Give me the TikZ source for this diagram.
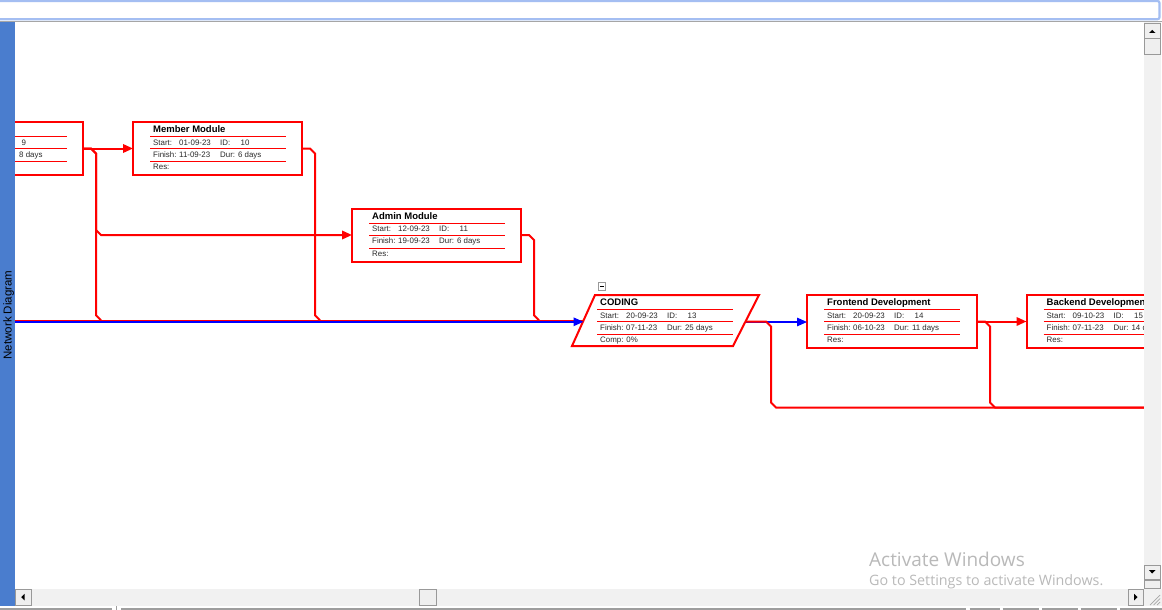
\documentclass[tikz,border=0pt]{standalone}
\usepackage{fontspec}
\setmainfont{Liberation Sans}
\newfontfamily\wmfont{Open Sans}
\usetikzlibrary{arrows.meta}

\definecolor{sidebar}{HTML}{4A7DCE}
\definecolor{framelite}{HTML}{A4BEF2}
\definecolor{barbg}{HTML}{F1F1F1}
\definecolor{btnface}{HTML}{EFEFEF}
\definecolor{wmgray}{HTML}{B9B9B9}
\definecolor{critred}{HTML}{FF0000}
\definecolor{linkblue}{HTML}{0000FF}
\definecolor{rowink}{HTML}{2A2A2A}

\tikzset{
  taskbox/.style={draw=critred, line width=2pt, rectangle, inner sep=0pt, outer sep=0pt,
    minimum width=169pt, minimum height=53pt, anchor=north west},
  titletext/.style={anchor=base west, inner sep=0pt,
    font=\fontsize{9.5}{10}\selectfont\bfseries},
  rowtext/.style={anchor=base west, inner sep=0pt,
    font=\fontsize{7.9}{9}\selectfont, text=rowink},
  sepline/.style={draw=critred, line width=0.9pt},
  critlink/.style={draw=critred, line width=2pt},
  critthin/.style={draw=critred, line width=1pt},
  bluelink/.style={draw=linkblue, line width=1.5pt},
  arrowhd/.style={-{Triangle[length=10pt,width=8.5pt]}},
  button/.style={fill=btnface, draw=black!40, line width=0.8pt},
}

% text rows of one task box; #1 = box name, the rows hang from (#1-nw)
\newcommand\taskfields[7]{%
  \node[titletext] (#1-title) at ([shift={(20,10.6)}]#1-nw) {#2};
  \draw[sepline] ([shift={(17,14.6)}]#1-nw) -- ++(136,0);
  \node[rowtext] (#1-sl) at ([shift={(20,23.3)}]#1-nw) {Start:};
  \node[rowtext] (#1-sv) at ([shift={(46,23.3)}]#1-nw) {#3};
  \node[rowtext] (#1-il) at ([shift={(87,23.3)}]#1-nw) {ID:};
  \node[rowtext] (#1-iv) at ([shift={(107.5,23.3)}]#1-nw) {#4};
  \draw[sepline] ([shift={(17,26.6)}]#1-nw) -- ++(136,0);
  \node[rowtext] (#1-fl) at ([shift={(20,35)}]#1-nw) {Finish:};
  \node[rowtext] (#1-fv) at ([shift={(46,35)}]#1-nw) {#5};
  \node[rowtext] (#1-dv) at ([shift={(87,35)}]#1-nw) {Dur: #6};
  \draw[sepline] ([shift={(17,39.6)}]#1-nw) -- ++(136,0);
  \node[rowtext] (#1-last) at ([shift={(20,47.5)}]#1-nw) {#7};
}

\begin{document}
\begin{tikzpicture}[x=1pt,y=-1pt]
\useasboundingbox (0,0) rectangle (1162,610);
\fill[white] (0,0) rectangle (1162,610);

% title field along the top edge
\draw[framelite, line width=2.2pt, rounded corners=2pt] (-6,1) rectangle (1159.5,19.2);
\draw[black!35, line width=1.4pt] (0,21.4) -- (1162,21.4);

% ---------------- diagram area ----------------
\begin{scope}
\clip (15,22.2) rectangle (1144,589);

% task boxes
\node[taskbox] (prev)     at (-86,122) {};
\node[taskbox] (member)   at (133,122) {};
\node[taskbox] (admin)    at (352,208.5) {};
\node[taskbox, minimum width=170pt] (frontend) at (807,295) {};
\node[taskbox, minimum width=170pt] (backend)  at (1026.5,295) {};

% summary task: parallelogram
\node[minimum width=187pt, minimum height=51pt, inner sep=0pt, outer sep=0pt] (coding) at (665.5,320.5) {};
\draw[critlink, line join=miter]
  (coding.south west) -- ([xshift=23]coding.north west) -- (coding.north east)
  -- ([xshift=-26]coding.south east) -- cycle;
\coordinate (codingIn)   at (583.5,321.8);
\coordinate (codingOut)  at (745.5,321.5);
\coordinate (codingOutB) at (745.5,322);
\coordinate (coding-nw)  at (580,295);

% collapse marker of the summary task
\node[draw=black!40, fill=white, line width=0.6pt, minimum size=7.5pt, inner sep=0pt] (collapse) at (602,286.5) {};
\draw[black, line width=0.8pt] ([xshift=-2.2]collapse.center) -- ([xshift=2.2]collapse.center);

% the rows of each box
\foreach \n in {prev,member,admin,frontend,backend}{\coordinate (\n-nw) at (\n.north west);}
\draw[sepline] ([shift={(17,14.6)}]prev-nw) -- ++(136,0);
\draw[sepline] ([shift={(17,26.6)}]prev-nw) -- ++(136,0);
\draw[sepline] ([shift={(17,39.6)}]prev-nw) -- ++(136,0);
\node[rowtext] (prev-iv) at ([shift={(107.5,23.3)}]prev-nw) {9};
\node[rowtext] (prev-dv) at ([shift={(105,35)}]prev-nw) {8 days};

\taskfields{member}{Member Module}{01-09-23}{10}{11-09-23}{6 days}{Res:}
\taskfields{admin}{Admin Module}{12-09-23}{11}{19-09-23}{6 days}{Res:}
\taskfields{coding}{CODING}{20-09-23}{13}{07-11-23}{25 days}{Comp: 0\%}
\taskfields{frontend}{Frontend Development}{20-09-23}{14}{06-10-23}{11 days}{Res:}
\taskfields{backend}{Backend Development}{09-10-23}{15}{07-11-23}{14 days}{Res:}

% links
\coordinate (offLeft)  at (0,321.8);
\coordinate (offRight) at (1150,407.5);
\draw[critthin] (0,320.3) -- (583,320.3);
\draw[bluelink, arrowhd] (offLeft) -- (codingIn);

\draw[critlink, arrowhd] (prev.east) -- (member.west);
\draw[critlink, arrowhd] (prev.east) -- ++(8,0) -- ++(5,5) -- ++(0,76.5) -- ++(5,5) -- (admin.west);
\draw[critlink] (prev.east) -- ++(8,0) -- ++(5,5) -- ++(0,161.8) -- ++(5,5);
\draw[critlink] (member.east) -- ++(8,0) -- ++(5,5) -- ++(0,161.8) -- ++(5,5);
\draw[critlink] (admin.east) -- ++(8,0) -- ++(5,5) -- ++(0,75.3) -- ++(5,5);

\draw[bluelink, arrowhd] (codingOutB) -- (codingOutB -| frontend.west);
\draw[critlink] (codingOut) -- ++(20.5,0) -- ++(5,5) -- ++(0,76) -- ++(5,5) -- (offRight);

\draw[critlink, arrowhd] (frontend.east) -- (backend.west);
\draw[critlink] (frontend.east) -- ++(8,0) -- ++(5,5) -- ++(0,76) -- ++(5,5) -- (offRight);
\end{scope}

% ---------------- window frame ----------------
% side tab
\fill[sidebar] (0,22.2) rectangle (15,606);
\node[rotate=90, inner sep=0pt, font=\fontsize{11.5}{12}\selectfont] (tabname) at (8.6,315) {Network Diagram};

% vertical scroll bar
\fill[barbg] (1144,22.2) rectangle (1160.5,589);
\fill[white] (1160.5,22.2) rectangle (1162,589);
\node[button, minimum width=16pt, minimum height=15pt, inner sep=0pt, anchor=north west] (upbtn) at (1144.3,23) {};
\node[button, minimum width=16pt, minimum height=16pt, inner sep=0pt, anchor=north west] (vthumb) at (1144.3,38.5) {};
\fill[black] (1149,33) -- (1155.5,33) -- (1152.2,29.8) -- cycle;
\node[button, minimum width=16pt, minimum height=14pt, inner sep=0pt, anchor=north west] (downbtn) at (1144.3,565) {};
\node[button, minimum width=16pt, minimum height=8pt, inner sep=0pt, anchor=north west] (vlower) at (1144.3,580) {};
\fill[black] (1149,570.2) -- (1155.5,570.2) -- (1152.2,573.5) -- cycle;

% horizontal scroll bar
\fill[barbg] (15,589) rectangle (1162,606.2);
\node[button, minimum width=16pt, minimum height=16pt, inner sep=0pt, anchor=north west] (leftbtn) at (15.4,589.3) {};
\fill[black] (24.6,593.8) -- (24.6,600.4) -- (21.2,597.1) -- cycle;
\node[button, minimum width=16.5pt, minimum height=16pt, inner sep=0pt, anchor=north west] (hthumb) at (419.2,589.3) {};
\node[button, minimum width=15pt, minimum height=16pt, inner sep=0pt, anchor=north west] (rightbtn) at (1128.2,589.3) {};
\fill[black] (1134.2,593.8) -- (1134.2,600.4) -- (1137.6,597.1) -- cycle;
% size grip
\foreach \d in {0,3.5,7}{\draw[black!35, line width=0.7pt] (1150+\d,605) -- (1160,595+\d);}

% status strip
\fill[white] (0,606.2) rectangle (1162,610);
\foreach \a/\b in {0/112, 121/966, 969.5/999.5, 1002.5/1039, 1042/1077.5, 1080.5/1117, 1120/1162}
  {\draw[black!38, line width=1.6pt] (\a,608.9) -- (\b,608.9);}
\draw[black!38, line width=1pt] (116.7,606.4) -- (116.7,610);

% system watermark
\node[anchor=base west, inner sep=0pt, text=wmgray, font=\wmfont\fontsize{19}{20}\selectfont] (wm1) at (869,566.7) {Activate Windows};
\node[anchor=base west, inner sep=0pt, text=wmgray, font=\wmfont\fontsize{14.3}{15}\selectfont] (wm2) at (869,585.6) {Go to Settings to activate Windows.};
\end{tikzpicture}
\end{document}
